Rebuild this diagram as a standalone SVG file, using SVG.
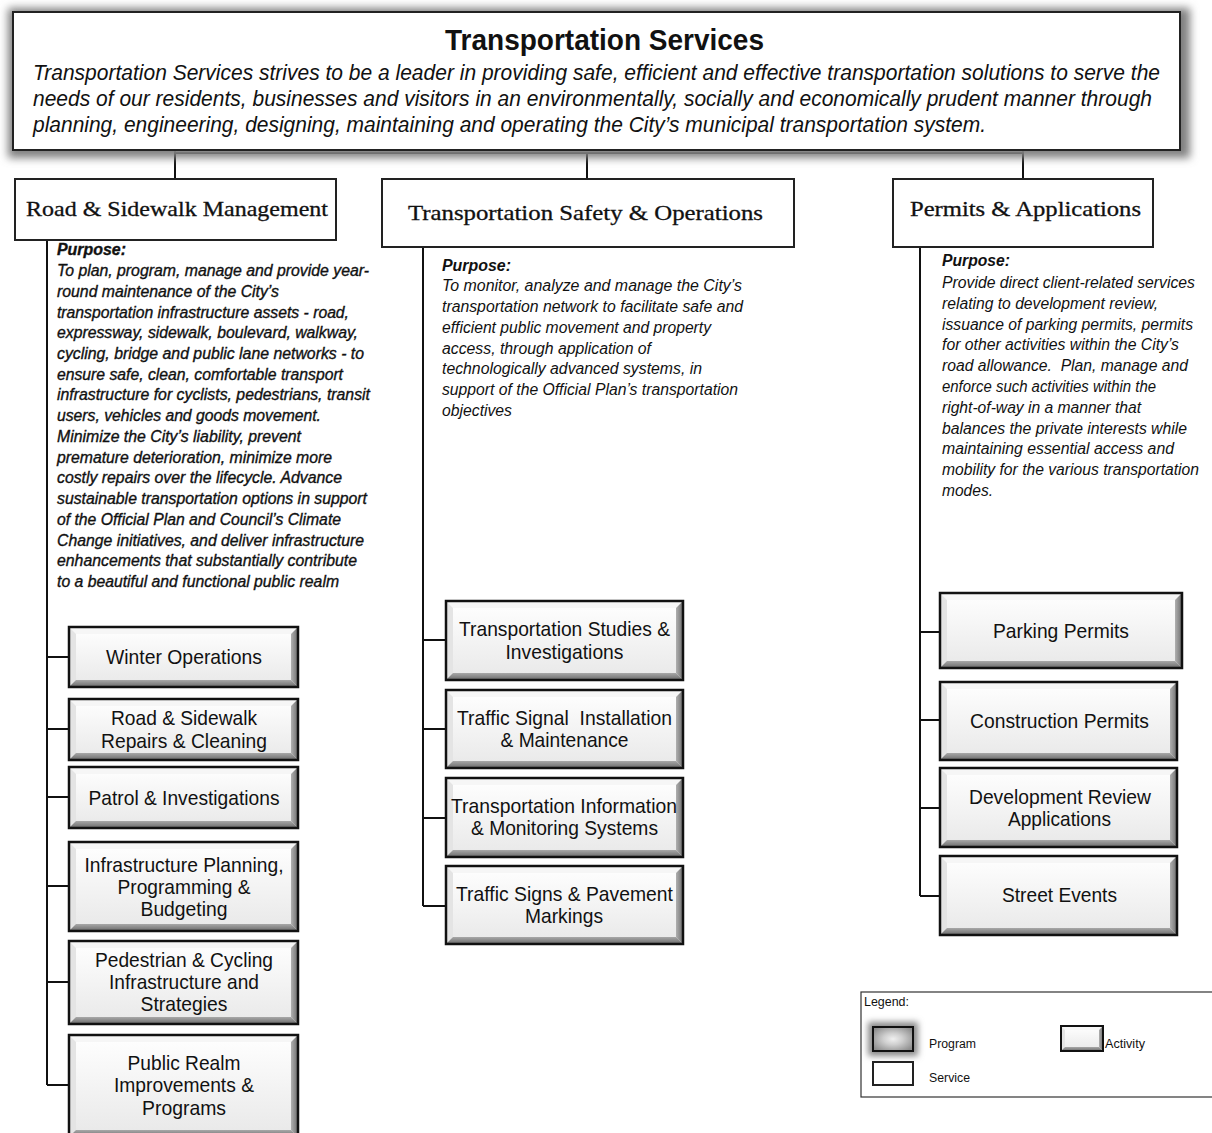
<svg xmlns="http://www.w3.org/2000/svg" width="1212" height="1133" viewBox="0 0 1212 1133">
<style>
.sans{font-family:"Liberation Sans",Arial,sans-serif;fill:#111}
.serif{font-family:"Liberation Serif","Times New Roman",serif;fill:#111;font-size:21px;stroke:#111;stroke-width:0.3}
.title{font-size:30px;font-weight:bold}
.desc{font-size:22px;font-style:italic}
.purp{font-size:16px;font-style:italic}
.heavy{stroke:#111;stroke-width:0.35}
.ph{font-weight:bold}
.act{font-size:21px;text-anchor:middle}
.leg{font-size:12px}
.svc{fill:#fff;stroke:#222;stroke-width:2}
.ln{fill:none;stroke:#111;stroke-width:2}
.face{fill:url(#face)}
.bt{fill:#f6f6f6}
.bl{fill:#e4e4e4}
.br{fill:url(#rg)}
.bb{fill:url(#bg)}
.ol{fill:none;stroke:#111;stroke-width:2.5}
</style>
<defs>
<linearGradient id="face" x1="0" y1="0" x2="0" y2="1"><stop offset="0" stop-color="#ffffff"/><stop offset="1" stop-color="#e8e8e8"/></linearGradient>
<linearGradient id="rg" x1="0" y1="0" x2="1" y2="0"><stop offset="0" stop-color="#b0b0b0"/><stop offset="1" stop-color="#6e6e6e"/></linearGradient>
<linearGradient id="bg" x1="0" y1="0" x2="0" y2="1"><stop offset="0" stop-color="#a8a8a8"/><stop offset="1" stop-color="#6a6a6a"/></linearGradient>
<filter id="shadow" x="-5%" y="-20%" width="110%" height="140%"><feGaussianBlur stdDeviation="4"/></filter>
<filter id="glow" x="-50%" y="-50%" width="200%" height="200%"><feGaussianBlur stdDeviation="3"/></filter>
<radialGradient id="prog" cx="0.5" cy="0.5" r="0.6"><stop offset="0" stop-color="#f0f0f0"/><stop offset="0.4" stop-color="#cfcfcf"/><stop offset="1" stop-color="#8d8d8d"/></radialGradient>
</defs>
<rect width="1212" height="1133" fill="#fff"/>

<g id="connectors">
<path class="ln" d="M175 150V179M175 153H1023M587 153V179M1023 150V179"/>
<path class="ln" d="M47 240V1085M47 657H69M47 729H69M47 797H69M47 886H69M47 982H69M47 1085H69"/>
<path class="ln" d="M423 247V906M423 640H446M423 729H446M423 818H446M423 906H446"/>
<path class="ln" d="M920 247V896M920 632H940M920 720H940M920 808H940M920 896H940"/>
</g>

<g id="transportation-services">
<rect x="8" y="8" width="1182" height="150" fill="#808080" filter="url(#shadow)"/>
<rect x="13" y="12" width="1167" height="138" fill="#fff" stroke="#222" stroke-width="2"/>
<text class="sans title" x="445" y="50" textLength="319" lengthAdjust="spacingAndGlyphs">Transportation Services</text>
<text class="sans desc" x="33" y="80" textLength="1127" lengthAdjust="spacingAndGlyphs">Transportation Services strives to be a leader in providing safe, efficient and effective transportation solutions to serve the</text>
<text class="sans desc" x="33" y="106" textLength="1119" lengthAdjust="spacingAndGlyphs">needs of our residents, businesses and visitors in an environmentally, socially and economically prudent manner through</text>
<text class="sans desc" x="33" y="132" textLength="953" lengthAdjust="spacingAndGlyphs">planning, engineering, designing, maintaining and operating the City’s municipal transportation system.</text>
</g>

<g id="road-sidewalk-management">
<rect x="15" y="179" width="321" height="61" fill="#fff" stroke="#222" stroke-width="2"/>
<text class="serif" x="26" y="216" textLength="302" lengthAdjust="spacingAndGlyphs">Road &amp; Sidewalk Management</text>
</g>
<g id="road-purpose" class="sans purp heavy">
<text class="ph" x="57" y="255" textLength="69" lengthAdjust="spacingAndGlyphs">Purpose:</text>
<text x="57" y="276" textLength="312" lengthAdjust="spacingAndGlyphs">To plan, program, manage and provide year-</text>
<text x="57" y="296.7" textLength="222" lengthAdjust="spacingAndGlyphs">round maintenance of the City’s</text>
<text x="57" y="317.5" textLength="292" lengthAdjust="spacingAndGlyphs">transportation infrastructure assets - road,</text>
<text x="57" y="338.2" textLength="301" lengthAdjust="spacingAndGlyphs">expressway, sidewalk, boulevard, walkway,</text>
<text x="57" y="358.9" textLength="307" lengthAdjust="spacingAndGlyphs">cycling, bridge and public lane networks - to</text>
<text x="57" y="379.7" textLength="286" lengthAdjust="spacingAndGlyphs">ensure safe, clean, comfortable transport</text>
<text x="57" y="400.4" textLength="313" lengthAdjust="spacingAndGlyphs">infrastructure for cyclists, pedestrians, transit</text>
<text x="57" y="421.1" textLength="264" lengthAdjust="spacingAndGlyphs">users, vehicles and goods movement.</text>
<text x="57" y="441.8" textLength="244" lengthAdjust="spacingAndGlyphs">Minimize the City’s liability, prevent</text>
<text x="57" y="462.6" textLength="275" lengthAdjust="spacingAndGlyphs">premature deterioration, minimize more</text>
<text x="57" y="483.3" textLength="285" lengthAdjust="spacingAndGlyphs">costly repairs over the lifecycle. Advance</text>
<text x="57" y="504" textLength="310" lengthAdjust="spacingAndGlyphs">sustainable transportation options in support</text>
<text x="57" y="524.8" textLength="284" lengthAdjust="spacingAndGlyphs">of the Official Plan and Council’s Climate</text>
<text x="57" y="545.5" textLength="307" lengthAdjust="spacingAndGlyphs">Change initiatives, and deliver infrastructure</text>
<text x="57" y="566.2" textLength="300" lengthAdjust="spacingAndGlyphs">enhancements that substantially contribute</text>
<text x="57" y="587" textLength="282" lengthAdjust="spacingAndGlyphs">to a beautiful and functional public realm</text>
</g>

<g id="transportation-safety-operations">
<rect x="382" y="179" width="412" height="68" fill="#fff" stroke="#222" stroke-width="2"/>
<text class="serif" x="408" y="220" textLength="355" lengthAdjust="spacingAndGlyphs">Transportation Safety &amp; Operations</text>
</g>
<g id="safety-purpose" class="sans purp">
<text class="ph" x="442" y="271" textLength="69" lengthAdjust="spacingAndGlyphs">Purpose:</text>
<text x="442" y="291" textLength="300" lengthAdjust="spacingAndGlyphs">To monitor, analyze and manage the City’s</text>
<text x="442" y="311.8" textLength="301" lengthAdjust="spacingAndGlyphs">transportation network to facilitate safe and</text>
<text x="442" y="332.7" textLength="269" lengthAdjust="spacingAndGlyphs">efficient public movement and property</text>
<text x="442" y="353.5" textLength="209" lengthAdjust="spacingAndGlyphs">access, through application of</text>
<text x="442" y="374.3" textLength="260" lengthAdjust="spacingAndGlyphs">technologically advanced systems, in</text>
<text x="442" y="395.2" textLength="296" lengthAdjust="spacingAndGlyphs">support of the Official Plan’s transportation</text>
<text x="442" y="416" textLength="70" lengthAdjust="spacingAndGlyphs">objectives</text>
</g>

<g id="permits-applications">
<rect x="893" y="179" width="260" height="68" fill="#fff" stroke="#222" stroke-width="2"/>
<text class="serif" x="910" y="216" textLength="231" lengthAdjust="spacingAndGlyphs">Permits &amp; Applications</text>
</g>
<g id="permits-purpose" class="sans purp">
<text class="ph" x="942" y="266" textLength="68" lengthAdjust="spacingAndGlyphs">Purpose:</text>
<text x="942" y="288" textLength="253" lengthAdjust="spacingAndGlyphs">Provide direct client-related services</text>
<text x="942" y="308.8" textLength="216" lengthAdjust="spacingAndGlyphs">relating to development review,</text>
<text x="942" y="329.6" textLength="251" lengthAdjust="spacingAndGlyphs">issuance of parking permits, permits</text>
<text x="942" y="350.4" textLength="237" lengthAdjust="spacingAndGlyphs">for other activities within the City’s</text>
<text x="942" y="371.2" textLength="246" lengthAdjust="spacingAndGlyphs" xml:space="preserve">road allowance.  Plan, manage and</text>
<text x="942" y="392" textLength="214" lengthAdjust="spacingAndGlyphs">enforce such activities within the</text>
<text x="942" y="412.8" textLength="199" lengthAdjust="spacingAndGlyphs">right-of-way in a manner that</text>
<text x="942" y="433.6" textLength="245" lengthAdjust="spacingAndGlyphs">balances the private interests while</text>
<text x="942" y="454.4" textLength="232" lengthAdjust="spacingAndGlyphs">maintaining essential access and</text>
<text x="942" y="475.2" textLength="257" lengthAdjust="spacingAndGlyphs">mobility for the various transportation</text>
<text x="942" y="496" textLength="51" lengthAdjust="spacingAndGlyphs">modes.</text>
</g>

<!-- Left activities: x=69 w=229, bevel 7 -->
<g id="winter-operations">
<rect class="face" x="69" y="627" width="229" height="60"/>
<polygon class="bt" points="69,627 298,627 291,634 76,634"/>
<polygon class="bl" points="69,627 76,634 76,680 69,687"/>
<polygon class="br" points="298,627 298,687 291,680 291,634"/>
<polygon class="bb" points="69,687 298,687 291,680 76,680"/>
<rect class="ol" x="69" y="627" width="229" height="60"/>
<text class="sans act" x="184" y="664" textLength="156" lengthAdjust="spacingAndGlyphs">Winter Operations</text>
</g>
<g id="road-sidewalk-repairs">
<rect class="face" x="69" y="699" width="229" height="61"/>
<polygon class="bt" points="69,699 298,699 291,706 76,706"/>
<polygon class="bl" points="69,699 76,706 76,753 69,760"/>
<polygon class="br" points="298,699 298,760 291,753 291,706"/>
<polygon class="bb" points="69,760 298,760 291,753 76,753"/>
<rect class="ol" x="69" y="699" width="229" height="61"/>
<text class="sans act" x="184" y="725" textLength="146" lengthAdjust="spacingAndGlyphs">Road &amp; Sidewalk</text>
<text class="sans act" x="184" y="748" textLength="166" lengthAdjust="spacingAndGlyphs">Repairs &amp; Cleaning</text>
</g>
<g id="patrol-investigations">
<rect class="face" x="69" y="767" width="229" height="61"/>
<polygon class="bt" points="69,767 298,767 291,774 76,774"/>
<polygon class="bl" points="69,767 76,774 76,821 69,828"/>
<polygon class="br" points="298,767 298,828 291,821 291,774"/>
<polygon class="bb" points="69,828 298,828 291,821 76,821"/>
<rect class="ol" x="69" y="767" width="229" height="61"/>
<text class="sans act" x="184" y="805" textLength="191" lengthAdjust="spacingAndGlyphs">Patrol &amp; Investigations</text>
</g>
<g id="infrastructure-planning">
<rect class="face" x="69" y="842" width="229" height="89"/>
<polygon class="bt" points="69,842 298,842 291,849 76,849"/>
<polygon class="bl" points="69,842 76,849 76,924 69,931"/>
<polygon class="br" points="298,842 298,931 291,924 291,849"/>
<polygon class="bb" points="69,931 298,931 291,924 76,924"/>
<rect class="ol" x="69" y="842" width="229" height="89"/>
<text class="sans act" x="184" y="872" textLength="199" lengthAdjust="spacingAndGlyphs">Infrastructure Planning,</text>
<text class="sans act" x="184" y="894" textLength="133" lengthAdjust="spacingAndGlyphs">Programming &amp;</text>
<text class="sans act" x="184" y="916" textLength="87" lengthAdjust="spacingAndGlyphs">Budgeting</text>
</g>
<g id="pedestrian-cycling">
<rect class="face" x="69" y="941" width="229" height="83"/>
<polygon class="bt" points="69,941 298,941 291,948 76,948"/>
<polygon class="bl" points="69,941 76,948 76,1017 69,1024"/>
<polygon class="br" points="298,941 298,1024 291,1017 291,948"/>
<polygon class="bb" points="69,1024 298,1024 291,1017 76,1017"/>
<rect class="ol" x="69" y="941" width="229" height="83"/>
<text class="sans act" x="184" y="967" textLength="178" lengthAdjust="spacingAndGlyphs">Pedestrian &amp; Cycling</text>
<text class="sans act" x="184" y="989" textLength="150" lengthAdjust="spacingAndGlyphs">Infrastructure and</text>
<text class="sans act" x="184" y="1011" textLength="87" lengthAdjust="spacingAndGlyphs">Strategies</text>
</g>
<g id="public-realm">
<rect class="face" x="69" y="1035" width="229" height="102"/>
<polygon class="bt" points="69,1035 298,1035 291,1042 76,1042"/>
<polygon class="bl" points="69,1035 76,1042 76,1130 69,1137"/>
<polygon class="br" points="298,1035 298,1137 291,1130 291,1042"/>
<polygon class="bb" points="69,1137 298,1137 291,1130 76,1130"/>
<rect class="ol" x="69" y="1035" width="229" height="102"/>
<text class="sans act" x="184" y="1070" textLength="113" lengthAdjust="spacingAndGlyphs">Public Realm</text>
<text class="sans act" x="184" y="1092" textLength="140" lengthAdjust="spacingAndGlyphs">Improvements &amp;</text>
<text class="sans act" x="184" y="1115" textLength="84" lengthAdjust="spacingAndGlyphs">Programs</text>
</g>

<!-- Middle activities: x=446 w=237 -->
<g id="transportation-studies">
<rect class="face" x="446" y="601" width="237" height="79"/>
<polygon class="bt" points="446,601 683,601 676,608 453,608"/>
<polygon class="bl" points="446,601 453,608 453,673 446,680"/>
<polygon class="br" points="683,601 683,680 676,673 676,608"/>
<polygon class="bb" points="446,680 683,680 676,673 453,673"/>
<rect class="ol" x="446" y="601" width="237" height="79"/>
<text class="sans act" x="564.5" y="636" textLength="211" lengthAdjust="spacingAndGlyphs">Transportation Studies &amp;</text>
<text class="sans act" x="564.5" y="659" textLength="118" lengthAdjust="spacingAndGlyphs">Investigations</text>
</g>
<g id="traffic-signal">
<rect class="face" x="446" y="690" width="237" height="78"/>
<polygon class="bt" points="446,690 683,690 676,697 453,697"/>
<polygon class="bl" points="446,690 453,697 453,761 446,768"/>
<polygon class="br" points="683,690 683,768 676,761 676,697"/>
<polygon class="bb" points="446,768 683,768 676,761 453,761"/>
<rect class="ol" x="446" y="690" width="237" height="78"/>
<text class="sans act" x="564.5" y="725" textLength="215" lengthAdjust="spacingAndGlyphs" xml:space="preserve">Traffic Signal  Installation</text>
<text class="sans act" x="564.5" y="747" textLength="128" lengthAdjust="spacingAndGlyphs">&amp; Maintenance</text>
</g>
<g id="transportation-information">
<rect class="face" x="446" y="778" width="237" height="79"/>
<polygon class="bt" points="446,778 683,778 676,785 453,785"/>
<polygon class="bl" points="446,778 453,785 453,850 446,857"/>
<polygon class="br" points="683,778 683,857 676,850 676,785"/>
<polygon class="bb" points="446,857 683,857 676,850 453,850"/>
<rect class="ol" x="446" y="778" width="237" height="79"/>
<text class="sans act" x="564" y="813" textLength="226" lengthAdjust="spacingAndGlyphs">Transportation Information</text>
<text class="sans act" x="564.5" y="835" textLength="187" lengthAdjust="spacingAndGlyphs">&amp; Monitoring Systems</text>
</g>
<g id="traffic-signs">
<rect class="face" x="446" y="866" width="237" height="78"/>
<polygon class="bt" points="446,866 683,866 676,873 453,873"/>
<polygon class="bl" points="446,866 453,873 453,937 446,944"/>
<polygon class="br" points="683,866 683,944 676,937 676,873"/>
<polygon class="bb" points="446,944 683,944 676,937 453,937"/>
<rect class="ol" x="446" y="866" width="237" height="78"/>
<text class="sans act" x="564.5" y="901" textLength="217" lengthAdjust="spacingAndGlyphs">Traffic Signs &amp; Pavement</text>
<text class="sans act" x="564" y="923" textLength="78" lengthAdjust="spacingAndGlyphs">Markings</text>
</g>

<!-- Right activities -->
<g id="parking-permits">
<rect class="face" x="940" y="593" width="242" height="75"/>
<polygon class="bt" points="940,593 1182,593 1175,600 947,600"/>
<polygon class="bl" points="940,593 947,600 947,661 940,668"/>
<polygon class="br" points="1182,593 1182,668 1175,661 1175,600"/>
<polygon class="bb" points="940,668 1182,668 1175,661 947,661"/>
<rect class="ol" x="940" y="593" width="242" height="75"/>
<text class="sans act" x="1061" y="638" textLength="136" lengthAdjust="spacingAndGlyphs">Parking Permits</text>
</g>
<g id="construction-permits">
<rect class="face" x="940" y="682" width="237" height="78"/>
<polygon class="bt" points="940,682 1177,682 1170,689 947,689"/>
<polygon class="bl" points="940,682 947,689 947,753 940,760"/>
<polygon class="br" points="1177,682 1177,760 1170,753 1170,689"/>
<polygon class="bb" points="940,760 1177,760 1170,753 947,753"/>
<rect class="ol" x="940" y="682" width="237" height="78"/>
<text class="sans act" x="1059.5" y="728" textLength="179" lengthAdjust="spacingAndGlyphs">Construction Permits</text>
</g>
<g id="development-review">
<rect class="face" x="940" y="768" width="237" height="79"/>
<polygon class="bt" points="940,768 1177,768 1170,775 947,775"/>
<polygon class="bl" points="940,768 947,775 947,840 940,847"/>
<polygon class="br" points="1177,768 1177,847 1170,840 1170,775"/>
<polygon class="bb" points="940,847 1177,847 1170,840 947,840"/>
<rect class="ol" x="940" y="768" width="237" height="79"/>
<text class="sans act" x="1060" y="804" textLength="182" lengthAdjust="spacingAndGlyphs">Development Review</text>
<text class="sans act" x="1059.5" y="826" textLength="103" lengthAdjust="spacingAndGlyphs">Applications</text>
</g>
<g id="street-events">
<rect class="face" x="940" y="856" width="237" height="79"/>
<polygon class="bt" points="940,856 1177,856 1170,863 947,863"/>
<polygon class="bl" points="940,856 947,863 947,928 940,935"/>
<polygon class="br" points="1177,856 1177,935 1170,928 1170,863"/>
<polygon class="bb" points="940,935 1177,935 1170,928 947,928"/>
<rect class="ol" x="940" y="856" width="237" height="79"/>
<text class="sans act" x="1059.5" y="902" textLength="115" lengthAdjust="spacingAndGlyphs">Street Events</text>
</g>

<g id="legend">
<rect x="861" y="992" width="360" height="105" fill="#fff" stroke="#333" stroke-width="1.2"/>
<text class="sans leg" x="864" y="1006" textLength="45" lengthAdjust="spacingAndGlyphs">Legend:</text>
<rect x="868" y="1022" width="50" height="34" fill="#888" filter="url(#glow)"/>
<rect x="873" y="1027" width="40" height="24" fill="url(#prog)" stroke="#111" stroke-width="2"/>
<text class="sans leg" x="929" y="1048" textLength="47" lengthAdjust="spacingAndGlyphs">Program</text>
<rect class="svc" x="873" y="1062" width="40" height="23"/>
<text class="sans leg" x="929" y="1082" textLength="41" lengthAdjust="spacingAndGlyphs">Service</text>
<rect class="face" x="1061" y="1026" width="42" height="25"/>
<polygon class="bt" points="1061,1026 1103,1026 1099,1030 1065,1030"/>
<polygon class="bl" points="1061,1026 1065,1030 1065,1047 1061,1051"/>
<polygon class="br" points="1103,1026 1103,1051 1099,1047 1099,1030"/>
<polygon class="bb" points="1061,1051 1103,1051 1099,1047 1065,1047"/>
<rect x="1061" y="1026" width="42" height="25" fill="none" stroke="#111" stroke-width="2"/>
<text class="sans leg" x="1105" y="1048" textLength="40" lengthAdjust="spacingAndGlyphs">Activity</text>
</g>
</svg>
